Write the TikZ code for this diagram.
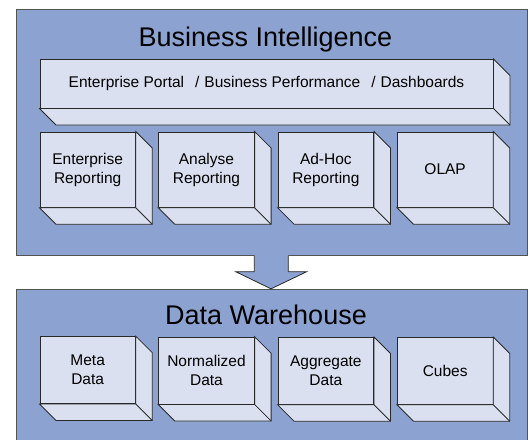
\documentclass[tikz,border=0pt]{standalone}
\usepackage{fontspec}
\setmainfont{Liberation Sans}
\usetikzlibrary{calc}
\definecolor{panelblue}{RGB}{140,163,210}
\definecolor{facefill}{RGB}{219,224,240}
\definecolor{edgecol}{RGB}{40,40,40}
\newcommand\dd{16.5}
\newcommand\cubeside[1]{%
  \filldraw[facestyle] (#1.north east) -- ++(\dd,\dd) -- ($(#1.south east)+(\dd,\dd)$) -- ($(#1.south west)+(\dd,\dd)$) -- (#1.south west) -- (#1.south east) -- cycle;
  \draw[edgestyle] (#1.south east) -- ++(\dd,\dd);}
\tikzset{
  facestyle/.style={fill=facefill, draw=edgecol, line width=0.8pt, line join=miter},
  edgestyle/.style={draw=edgecol, line width=0.8pt},
  front/.style={facestyle, rectangle, anchor=north west, inner sep=0pt, align=center,
    font=\fontsize{15.5}{19}\selectfont},
  panel/.style={fill=panelblue, draw=edgecol!80, line width=0.8pt},
  titlestyle/.style={font=\fontsize{27}{32}\selectfont, anchor=base, inner sep=0pt},
}
\begin{document}
\begin{tikzpicture}[x=1pt,y=-1pt]
\useasboundingbox (0,0) rectangle (532,439);
\clip (0,0) rectangle (532,439);
% panels
\filldraw[panel] (16,9) rectangle (527,255.5);
\filldraw[panel] (16,289) rectangle (527,460);
% arrow
\coordinate (a1) at (254.3,255.5);
\coordinate (a2) at (254.3,271.7);
\coordinate (a3) at (235.7,271.7);
\coordinate (tip) at (271,288.8);
\coordinate (a5) at (306.7,271.7);
\coordinate (a6) at (288.3,271.7);
\coordinate (a7) at (288.3,255.5);
\fill[panelblue] ($(a1)+(0,-1)$) -- (a2) -- (a3) -- (tip) -- (a5) -- (a6) -- ($(a7)+(0,-1)$) -- cycle;
\draw[edgestyle] (a1) -- (a2) -- (a3) -- (tip) -- (a5) -- (a6) -- (a7);
% titles
\node[titlestyle] (bi) at (265.5,46) {Business Intelligence};
\node[titlestyle] (dw) at (266,324.3) {Data Warehouse};
% banner
\node[front, minimum width=453.2pt, minimum height=48.7pt] (portal) at (39.5,59)
  {Enterprise Portal\hspace{11pt}/\hspace{5pt}Business Performance\hspace{11pt}/\hspace{5pt}Dashboards};
\cubeside{portal}
% top row
\node[front, minimum width=95.5pt, minimum height=75.5pt] (er) at (39.5,131.5) {Enterprise\\Reporting};
\node[front, minimum width=95.5pt, minimum height=75.5pt] (ar) at (158.3,131.5) {Analyse\\Reporting};
\node[front, minimum width=95.5pt, minimum height=75.5pt] (ahr) at (277.7,131.5) {Ad-Hoc\\Reporting};
\node[front, minimum width=95.5pt, minimum height=75.5pt] (olap) at (397,131.5) {OLAP};
\cubeside{er}\cubeside{ar}\cubeside{ahr}\cubeside{olap}
% bottom row
\node[front, minimum width=95.5pt, minimum height=67pt] (meta) at (39.5,336.2) {Meta\\Data};
\node[front, minimum width=95.5pt, minimum height=67pt] (norm) at (158.3,336.7) {Normalized\\Data};
\node[front, minimum width=95.5pt, minimum height=67pt] (aggr) at (277.7,337) {Aggregate\\Data};
\node[front, minimum width=95.5pt, minimum height=67pt] (cubes) at (397,337) {Cubes};
\cubeside{meta}\cubeside{norm}\cubeside{aggr}\cubeside{cubes}
\end{tikzpicture}
\end{document}
